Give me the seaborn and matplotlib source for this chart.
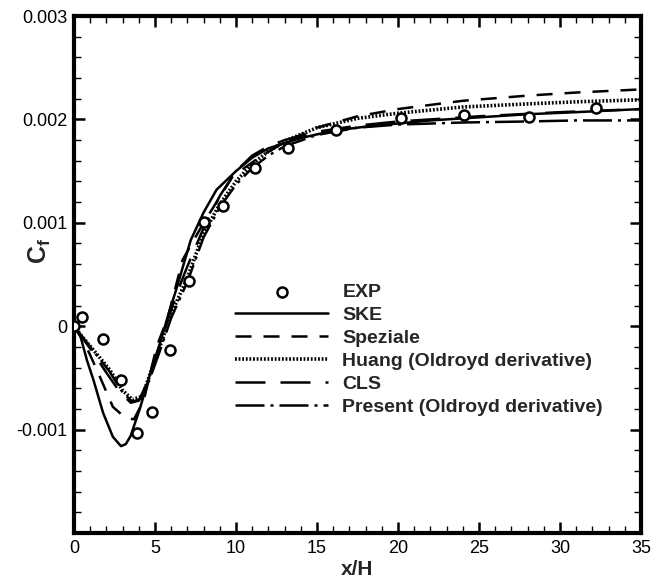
import numpy as np
import pandas as pd
import matplotlib
matplotlib.use("Agg")
import matplotlib.pyplot as plt
import seaborn as sns

# Datos (x/H, Cf)
exp_x = [0, 0.5, 1.8, 2.9, 3.9, 4.8, 5.9, 7.1, 8.0, 9.2, 11.2, 13.2, 16.2, 20.2, 24.1, 28.1, 32.2]
exp_y = [0, 0.00009, -0.00012, -0.00052, -0.00103, -0.00083, -0.00023, 0.00044, 0.00101,
         0.00116, 0.00153, 0.00172, 0.0019, 0.00201, 0.00204, 0.00202, 0.00211]

ske_x = [0, 0.4, 0.8, 1.2, 1.8, 2.4, 2.9, 3.2, 3.5, 4.1, 4.7, 5.3, 5.8, 6.3, 7.2, 8.0, 8.8,
         10, 11, 12, 14, 16, 18, 20, 22, 25, 28, 31, 35]
ske_y = [0, -0.0001, -0.00033, -0.00052, -0.00084, -0.00107, -0.00116, -0.00114, -0.00106,
         -0.00078, -0.00046, -0.00017, 0.0001, 0.00035, 0.00083, 0.0011, 0.00132, 0.0015,
         0.00163, 0.00172, 0.00182, 0.00189, 0.00193, 0.00196, 0.00199, 0.00202, 0.00205,
         0.00207, 0.0021]

spz_x = [0, 0.5, 1.0, 1.6, 2.4, 3.2, 3.7, 4.3, 5.1, 5.8, 6.7, 8.0, 9.8, 11.5, 13, 15, 17.5,
         20, 24, 28, 31, 35]
spz_y = [0, -0.00012, -0.00028, -0.00049, -0.00078, -0.00089, -0.0009, -0.00072, -0.0002,
         0.00009, 0.00064, 0.001, 0.00145, 0.00164, 0.00178, 0.00192, 0.00203, 0.0021,
         0.00218, 0.00223, 0.00226, 0.00229]

hua_x = [0, 0.5, 1.2, 2.2, 3.0, 3.6, 4.2, 4.7, 5.3, 6.0, 7.0, 8.0, 9.0, 10, 11, 12, 13, 15,
         17.5, 20, 24, 28, 31, 35]
hua_y = [0, -0.0001, -0.00023, -0.00042, -0.00062, -0.00071, -0.00068, -0.00046, -0.0002,
         0.00012, 0.00047, 0.0009, 0.00118, 0.0014, 0.00157, 0.00169, 0.00179, 0.00192,
         0.00201, 0.00206, 0.00212, 0.00215, 0.00217, 0.00219]

cls_x = [0, 0.5, 1.2, 2.0, 2.8, 3.5, 4.0, 4.5, 5.0, 5.5, 6.0, 6.5, 7.0, 8.0, 9.0, 10, 11, 12,
         13, 15, 17.5, 20, 25, 30, 35]
cls_y = [0, -0.00011, -0.00026, -0.00045, -0.00063, -0.00074, -0.00072, -0.00055, -0.00032,
         -0.00008, 0.00016, 0.00038, 0.00058, 0.00095, 0.00126, 0.0015, 0.00165, 0.00174,
         0.0018, 0.00188, 0.00194, 0.00198, 0.00203, 0.00207, 0.0021]

pre_x = [0, 0.5, 1.2, 2.2, 3.0, 3.6, 4.2, 4.7, 5.3, 6.0, 7.0, 8.0, 9.0, 10, 11, 12, 13, 15,
         17.5, 20, 24, 28, 31, 35]
pre_y = [0, -0.0001, -0.00024, -0.00044, -0.00064, -0.00073, -0.0007, -0.0005, -0.00024,
         0.00008, 0.00043, 0.00086, 0.00115, 0.00137, 0.00153, 0.00165, 0.00174, 0.00185,
         0.00192, 0.00195, 0.00197, 0.00198, 0.00199, 0.00199]

y_ticks = [-0.002, -0.001, 0, 0.001, 0.002, 0.003]
y_labels = ['', '-0.001', '0', '0.001', '0.002', '0.003']
x_ticks = [0, 5, 10, 15, 20, 25, 30, 35]

sns.set_style("ticks")
plt.rcParams['font.family'] = ['Liberation Sans', 'DejaVu Sans']
plt.rcParams['mathtext.fontset'] = 'custom'
plt.rcParams['mathtext.rm'] = 'Liberation Sans:bold'
plt.rcParams['mathtext.bf'] = 'Liberation Sans:bold'
plt.rcParams['mathtext.it'] = 'Liberation Sans:bold'

fig = plt.figure(figsize=(6.62, 5.79), dpi=100)
ax = fig.add_axes([74 / 662, 1 - 533 / 579, (641 - 74) / 662, (533 - 16) / 579])

lw = 1.8
sns.scatterplot(x=exp_x, y=exp_y, ax=ax, marker='o', s=52, facecolor='white',
                edgecolor='black', linewidth=1.8, zorder=10, label='EXP')
sns.lineplot(x=ske_x, y=ske_y, ax=ax, color='black', lw=lw, sort=False,
             linestyle='-', label='SKE')
sns.lineplot(x=spz_x, y=spz_y, ax=ax, color='black', lw=lw, sort=False,
             linestyle=(0, (6.4, 4.8)), label='Speziale')
sns.lineplot(x=hua_x, y=hua_y, ax=ax, color='black', lw=2.6, sort=False,
             linestyle=(0, (0.5, 0.5)), label='Huang (Oldroyd derivative)')
sns.lineplot(x=cls_x, y=cls_y, ax=ax, color='black', lw=lw, sort=False,
             linestyle=(0, (12, 6)), label='CLS')
sns.lineplot(x=pre_x, y=pre_y, ax=ax, color='black', lw=lw, sort=False,
             linestyle=(0, (11.6, 2.4, 1.2, 2.4)), label='Present (Oldroyd derivative)')

ax.set_xlim(0, 35)
ax.set_ylim(-0.002, 0.003)
ax.set_xticks(x_ticks)
ax.set_xticklabels([str(t) for t in x_ticks])
ax.set_yticks(y_ticks)
ax.set_yticklabels(y_labels)
ax.set_xticks(np.arange(0, 36, 1), minor=True)
ax.set_yticks(np.arange(-0.002, 0.00301, 0.0002), minor=True)

ax.tick_params(which='both', direction='in', top=True, right=True, colors='black',
               labelsize=13, pad=5)
ax.tick_params(which='major', length=8, width=1.8)
ax.tick_params(which='minor', length=5, width=1.0)
for s in ax.spines.values():
    s.set_linewidth(3)
    s.set_color('black')

ax.set_xlabel('x/H', fontsize=15, fontweight='bold', labelpad=2)
ax.set_ylabel(r'$\mathbf{C_f}$', fontsize=18, fontweight='bold')
ax.yaxis.set_label_coords(-0.037, 0.545)

leg = ax.legend(loc='upper left', bbox_to_anchor=(0.284, 0.483), frameon=False,
                prop={'weight': 'bold', 'size': 14}, handlelength=4.8,
                handletextpad=0.72, labelspacing=0.28, borderpad=0, borderaxespad=0,
                scatterpoints=1)

fig.savefig('out.png', dpi=100)
